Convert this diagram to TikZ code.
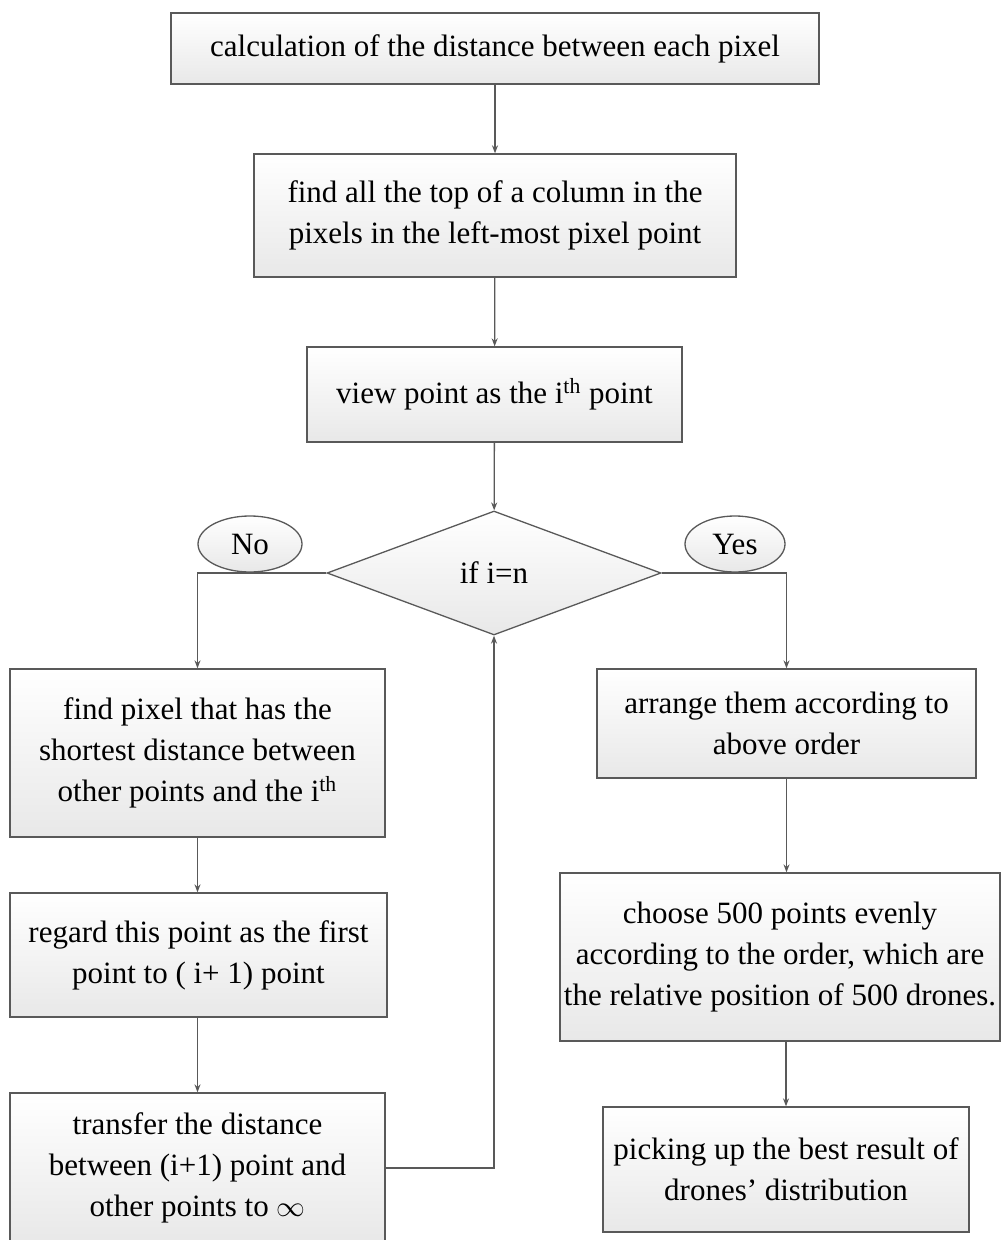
\documentclass[tikz,border=0pt]{standalone}
\usepackage{fontspec}
\setmainfont{Liberation Serif}
\usepackage{tikz}
\usetikzlibrary{shapes.geometric,arrows.meta,positioning,calc}

\begin{document}
\begin{tikzpicture}[
    x=0.5pt, y=-0.5pt,
    box/.style={rectangle, draw=black!65, line width=0.65pt, top color=white, bottom color=black!9, inner sep=0pt, align=center, font=\fontsize{15.5}{20.5}\selectfont},
    decision/.style={diamond, draw=black!65, line width=0.65pt, top color=white, bottom color=black!9, inner sep=0pt, font=\fontsize{15.5}{20.5}\selectfont},
    answer/.style={ellipse, draw=black!65, line width=0.65pt, top color=white, bottom color=black!9, inner sep=0pt, font=\fontsize{15.5}{20.5}\selectfont},
    flow/.style={draw=black!65, line width=0.65pt, -{Stealth[length=4pt,width=3pt]}}
]
\useasboundingbox (0,0) rectangle (1001,1240);

% Main column
\node[box, minimum width=324pt, minimum height=35.5pt] (b1) at (495,48.5) {calculation of the distance between each pixel};
\node[box, minimum width=241pt, minimum height=61.5pt] (b2) at (495,215.5) {find all the top of a column in the\\pixels in the left-most pixel point};
\node[box, minimum width=187.5pt, minimum height=47.5pt] (b3) at (494.5,394.5) {view point as the i\textsuperscript{th} point};
\node[decision, minimum width=167pt, minimum height=62pt] (dec) at (494,573) {if i=n};

% No branch
\node[box, minimum width=187.5pt, minimum height=84pt] (l1) at (197.5,753) {find pixel that has the\\shortest distance between\\other points and the i\textsuperscript{th}};
\node[box, minimum width=188.5pt, minimum height=62pt] (l2) at (198.5,955) {regard this point as the first\\point to ( i+ 1) point};
\node[box, minimum width=187.5pt, minimum height=75pt] (l3) at (197.5,1168) {transfer the distance\\between (i+1) point and\\other points to $\infty$};

% Yes branch
\node[box, minimum width=189.5pt, minimum height=54.5pt] (r1) at (786.5,723.5) {arrange them according to\\above order};
\node[box, minimum width=220pt, minimum height=84pt] (r2) at (780,957) {choose 500 points evenly\\according to the order, which are\\the relative position of 500 drones.};
\node[box, minimum width=183pt, minimum height=62.5pt] (r3) at (786,1169.5) {picking up the best result of\\drones’ distribution};

% Connectors
\draw[flow] (b1) -- (b2);
\draw[flow] (b2) -- (b3);
\draw[flow] (b3) -- (dec);
\draw[flow] (dec.west) -| (l1.north);
\draw[flow] (dec.east) -| (r1.north);
\draw[flow] (l1.south) -- (l1.south |- l2.north);
\draw[flow] (l1.south |- l2.south) -- (l1.south |- l3.north);
\draw[flow] (l3.east) -| (dec.south);
\draw[flow] (r1.south) -- (r1.south |- r2.north);
\draw[flow] (r3.north |- r2.south) -- (r3.north);

% Labels
\node[answer, minimum width=52pt, minimum height=28pt] (no) at (250,544) {No};
\node[answer, minimum width=50pt, minimum height=28pt] (yes) at (735,544) {Yes};

\end{tikzpicture}
\end{document}
